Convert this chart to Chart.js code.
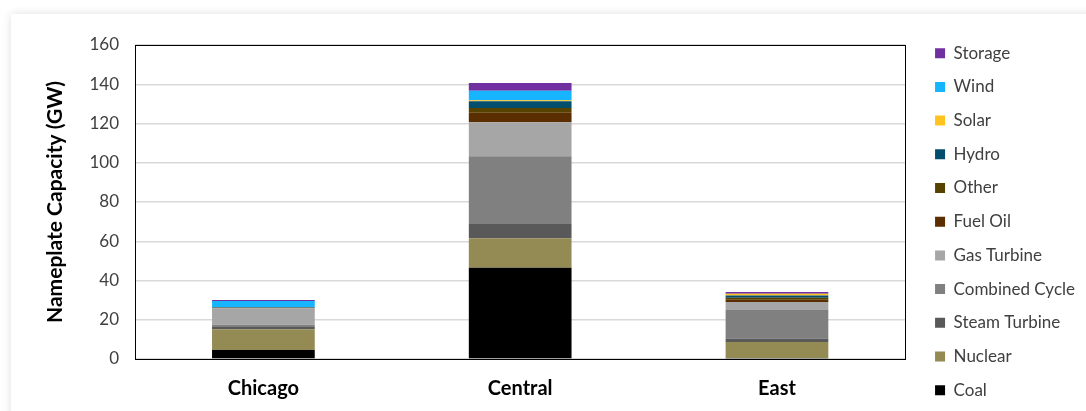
<!DOCTYPE html>
<html>
<head>
<meta charset="utf-8">
<script src="https://cdn.jsdelivr.net/npm/chart.js@4.4.1/dist/chart.umd.min.js"></script>
<style>
  html, body { margin: 0; padding: 0; background: #fff; overflow: hidden; }
  .card { position: absolute; left: 11px; top: 14px; width: 1100px; height: 420px; background: #fff; box-shadow: 0 0 9px rgba(0,0,0,0.13); }
  canvas { position: absolute; left: 0; top: 0; }
</style>
</head>
<body>
<div class="card"></div>
<canvas id="grafico" width="1086" height="411"></canvas>
<script>
  // Datos (GW)
  const regiones = ['Chicago', 'Central', 'East'];
  const coal = [4.6, 46.5, 0.5];
  const nuclear = [10.5, 15.0, 8.2];
  const steamTurbine = [1.2, 7.3, 1.8];
  const combinedCycle = [1.2, 34.5, 14.5];
  const gasTurbine = [8.3, 17.3, 4.0];
  const fuelOil = [0.5, 4.9, 1.2];
  const other = [0, 2.4, 1.0];
  const hydro = [0, 3.4, 1.2];
  const solar = [0, 0.5, 0.8];
  const wind = [3.3, 4.9, 0];
  const storage = [0.5, 3.9, 1.0];
  const ticksY = [0, 20, 40, 60, 80, 100, 120, 140, 160];

  const series = [
    ['Coal', coal, '#000000'],
    ['Nuclear', nuclear, '#948A54'],
    ['Steam Turbine', steamTurbine, '#595959'],
    ['Combined Cycle', combinedCycle, '#808080'],
    ['Gas Turbine', gasTurbine, '#A6A6A6'],
    ['Fuel Oil', fuelOil, '#5A2E00'],
    ['Other', other, '#584200'],
    ['Hydro', hydro, '#034E6C'],
    ['Solar', solar, '#FFC31F'],
    ['Wind', wind, '#17B5FF'],
    ['Storage', storage, '#7030A0']
  ];

  const fuente = 'Lato, "Liberation Sans", sans-serif';

  // Borde del área de trazado
  const bordeArea = {
    id: 'bordeArea',
    afterDatasetsDraw(chart) {
      const a = chart.chartArea;
      const c = chart.ctx;
      c.save();
      c.strokeStyle = '#000';
      c.lineWidth = 1;
      c.strokeRect(Math.round(a.left) + 0.5, Math.round(a.top) + 0.5, Math.round(a.right - a.left), Math.round(a.bottom - a.top));
      c.restore();
    }
  };

  // Ajuste de la leyenda
  const moverLeyenda = {
    id: 'moverLeyenda',
    afterLayout(chart) {
      const lg = chart.legend;
      const dx = chart.chartArea.right + 13 - lg.left;
      const dy = 28 - lg.top;
      lg.left += dx; lg.right += dx;
      lg.top += dy; lg.bottom += dy;
    }
  };

  const ctx = document.getElementById('grafico').getContext('2d');
  new Chart(ctx, {
    type: 'bar',
    data: {
      labels: regiones,
      datasets: series.map(s => ({
        label: s[0],
        data: s[1],
        backgroundColor: s[2],
        borderWidth: 0,
        categoryPercentage: 1,
        barPercentage: 0.4
      }))
    },
    options: {
      responsive: false,
      animation: false,
      layout: { padding: { top: 0, right: 14, left: 0, bottom: 0 } },
      plugins: {
        tooltip: { enabled: false },
        title: {
          display: true,
          text: ' ',
          fullSize: false,
          padding: 0,
          font: { size: 10, lineHeight: 4.5 }
        },
        legend: {
          position: 'right',
          align: 'start',
          reverse: true,
          labels: {
            boxWidth: 10,
            boxHeight: 10,
            padding: 16.7,
            color: '#404040',
            font: { family: fuente, size: 17 }
          }
        }
      },
      scales: {
        x: {
          stacked: true,
          grid: { display: false, drawTicks: false },
          border: { display: false },
          ticks: { color: '#000', padding: 18, font: { family: fuente, size: 20, weight: 'bold' } },
          afterFit(scale) { scale.height = 52; }
        },
        y: {
          stacked: true,
          min: 0,
          max: 160,
          afterBuildTicks(scale) { scale.ticks = ticksY.map(v => ({ value: v })); },
          grid: { color: '#d9d9d9', lineWidth: 1.5, drawTicks: false },
          border: { display: false },
          ticks: { color: '#404040', padding: 16, font: { family: fuente, size: 17 } },
          title: {
            display: true,
            text: 'Nameplate Capacity (GW)',
            color: '#000',
            padding: { top: 43, bottom: 0 },
            font: { family: fuente, size: 21, weight: 'bold' }
          },
          afterFit(scale) { scale.width = 135; }
        }
      }
    },
    plugins: [moverLeyenda, bordeArea]
  });
</script>
</body>
</html>
